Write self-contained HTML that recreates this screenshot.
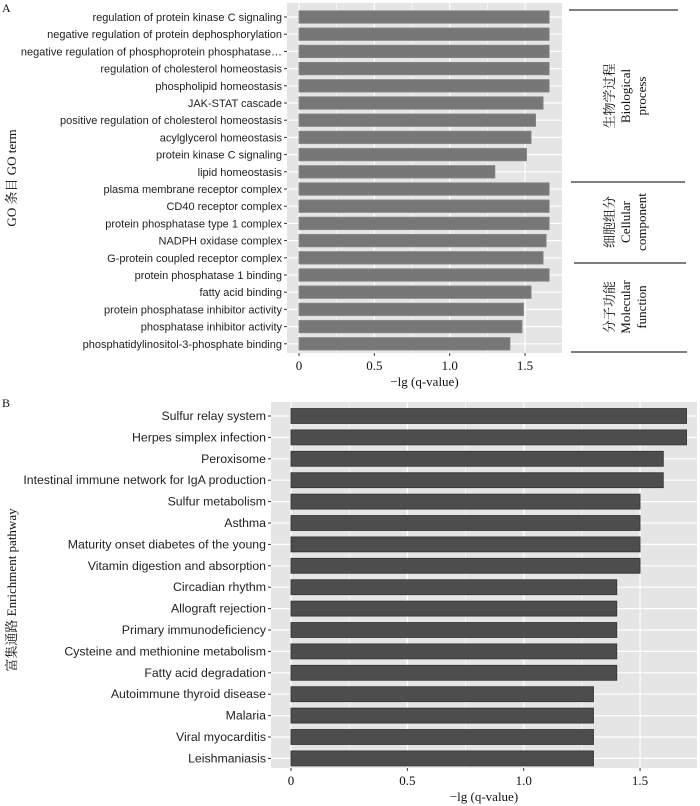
<!DOCTYPE html>
<html><head><meta charset="utf-8"><style>
body{margin:0;background:#fff;width:700px;height:806px;overflow:hidden}
svg{display:block}
.lab{font-family:"Liberation Sans",sans-serif;font-size:11px;fill:#222}
.ser{font-family:"Liberation Serif","Noto Serif CJK SC",serif;fill:#111}
</style></head><body>
<svg id="chart" width="700" height="806">
<text x="2" y="12" class="ser" font-size="12">A</text>
<text x="2" y="407" class="ser" font-size="12">B</text>
<text transform="translate(16,178) rotate(-90)" text-anchor="middle" class="ser" font-size="13">GO 条目  GO term</text>
<text transform="translate(16,590) rotate(-90)" text-anchor="middle" class="ser" font-size="13">富集通路  Enrichment pathway</text>
<g id="ga"></g><g id="gb"></g>
<g stroke="#333" stroke-width="1.2">
<line x1="569" y1="10" x2="678" y2="10"/><line x1="571" y1="182" x2="685" y2="182"/>
<line x1="574" y1="263" x2="686" y2="263"/><line x1="571" y1="352" x2="687" y2="352"/>
</g>
<g class="ser" font-size="13" text-anchor="middle">
<g transform="translate(627,96) rotate(-90)"><text x="0" y="-13">生物学过程</text><text x="0" y="3">Biological</text><text x="0" y="19">process</text></g>
<g transform="translate(627,222) rotate(-90)"><text x="0" y="-13">细胞组分</text><text x="0" y="3">Cellular</text><text x="0" y="19">component</text></g>
<g transform="translate(627,307) rotate(-90)"><text x="0" y="-13">分子功能</text><text x="0" y="3">Molecular</text><text x="0" y="19">function</text></g>
</g>
</svg>
<script>
const goTerms=["regulation of protein kinase C signaling","negative regulation of protein dephosphorylation","negative regulation of phosphoprotein phosphatase…","regulation of cholesterol homeostasis","phospholipid homeostasis","JAK-STAT cascade","positive regulation of cholesterol homeostasis","acylglycerol homeostasis","protein kinase C signaling","lipid homeostasis","plasma membrane receptor complex","CD40 receptor complex","protein phosphatase type 1 complex","NADPH oxidase complex","G-protein coupled receptor complex","protein phosphatase 1 binding","fatty acid binding","protein phosphatase inhibitor activity","phosphatase inhibitor activity","phosphatidylinositol-3-phosphate binding"];
const goValues=[1.66,1.66,1.66,1.66,1.66,1.62,1.57,1.54,1.51,1.30,1.66,1.66,1.66,1.64,1.62,1.66,1.54,1.49,1.48,1.40];
const keggTerms=["Sulfur relay system","Herpes simplex infection","Peroxisome","Intestinal immune network for IgA production","Sulfur metabolism","Asthma","Maturity onset diabetes of the young","Vitamin digestion and absorption","Circadian rhythm","Allograft rejection","Primary immunodeficiency","Cysteine and methionine metabolism","Fatty acid degradation","Autoimmune thyroid disease","Malaria","Viral myocarditis","Leishmaniasis"];
const keggValues=[1.7,1.7,1.6,1.6,1.5,1.5,1.5,1.5,1.4,1.4,1.4,1.4,1.4,1.3,1.3,1.3,1.3];
const ticks=[0,0.5,1.0,1.5];
const tickLabels=["0","0.5","1.0","1.5"];
const NS="http://www.w3.org/2000/svg";
function mk(p,t,a){const e=document.createElementNS(NS,t);for(const k in a)e.setAttribute(k,a[k]);p.appendChild(e);return e;}
function panel(g,cfg){
 const x=v=>cfg.x0+v*cfg.k;
 const y=i=>cfg.y0+i*cfg.step;
 const bg=mk(g,'rect',{x:cfg.l,y:cfg.t,width:cfg.r-cfg.l,height:cfg.b-cfg.t,fill:'#e5e5e5'});
 
 
 for(let v=0;v<=1.75;v+=0.25){const gl=mk(g,'line',{x1:x(v),x2:x(v),y1:cfg.t,y2:cfg.b,stroke:'#fff','stroke-width':(v*4)%2==0?1.2:0.6});
  }
 cfg.terms.forEach((t,i)=>{const hl=mk(g,'line',{x1:cfg.l,x2:cfg.r,y1:y(i),y2:y(i),stroke:'#fff','stroke-width':1.2});
  });
 cfg.terms.forEach((t,i)=>{
  const r=mk(g,'rect',{x:x(0),y:y(i)-cfg.bh/2,width:x(cfg.vals[i])-x(0),height:cfg.bh,fill:cfg.fill,stroke:cfg.stroke,'stroke-width':0.8});
  
  
  const tm=mk(g,'line',{x1:cfg.l-3,x2:cfg.l,y1:y(i),y2:y(i),stroke:'#333'});
  
  const tx=mk(g,'text',{x:cfg.l-5,y:y(i)+4,'text-anchor':'end',class:'lab','font-size':cfg.fs});tx.textContent=t;
  tx.style.fontSize=cfg.fs+'px';
  
  
 });
 ticks.forEach((v,i)=>{
  const tm=mk(g,'line',{x1:x(v),x2:x(v),y1:cfg.b,y2:cfg.b+3,stroke:'#333'});
  
  const tx=mk(g,'text',{x:x(v),y:cfg.b+17,'text-anchor':'middle',class:'ser','font-size':13});tx.textContent=tickLabels[i];
  
  
 });
 const tt=mk(g,'text',{x:(cfg.l+cfg.r)/2,y:cfg.b+33,'text-anchor':'middle',class:'ser','font-size':13});tt.textContent='−lg (q-value)';
 
 
}
panel(document.getElementById('ga'),{name:'go',fs:11,l:287,r:562,t:3,b:353,x0:299,k:150.7,y0:17,step:17.2,bh:12.5,terms:goTerms,vals:goValues,fill:'#777',stroke:'#888'});
panel(document.getElementById('gb'),{name:'kegg',fs:12.3,l:271,r:697,t:402,b:768,x0:291,k:232.7,y0:416,step:21.4,bh:15,terms:keggTerms,vals:keggValues,fill:'#4d4d4d',stroke:'#333'});
</script>
</body></html>
